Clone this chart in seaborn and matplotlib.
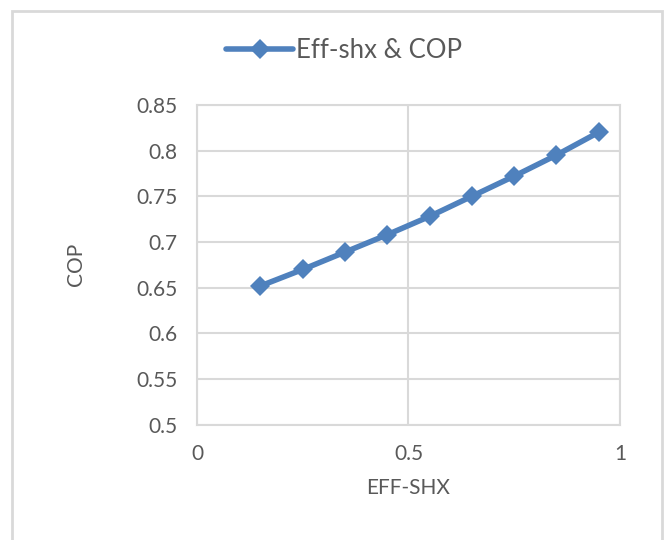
import numpy as np
import pandas as pd
import seaborn as sns
import matplotlib.pyplot as plt
from matplotlib.patches import Rectangle

eff_shx = [0.15, 0.25, 0.35, 0.45, 0.55, 0.65, 0.75, 0.85, 0.95]
cop = [0.652, 0.670, 0.689, 0.708, 0.728, 0.750, 0.772, 0.795, 0.820]
series_name = 'Eff-shx & COP'

df = pd.DataFrame({'EFF-SHX': eff_shx, 'COP': cop})

sns.set_style('white')
plt.rcParams['font.family'] = ['Lato', 'DejaVu Sans']
txt = '#595959'
grid = '#d9d9d9'
blue = '#4f81bd'

fig = plt.figure(figsize=(6.68, 5.40), dpi=100)
ax = fig.add_axes([0.295, 0.213, 0.633, 0.593])

sns.lineplot(data=df, x='EFF-SHX', y='COP', ax=ax, color=blue, linewidth=4,
             marker='D', markersize=10, markeredgewidth=0, label=series_name)

ax.set_xlim(0, 1)
ax.set_ylim(0.5, 0.85)
ax.set_xticks([0, 0.5, 1])
ax.set_xticklabels(['0', '0.5', '1'])
yt = np.arange(0.5, 0.851, 0.05)
ax.set_yticks(yt)
ax.set_yticklabels(['0.5', '0.55', '0.6', '0.65', '0.7', '0.75', '0.8', '0.85'])
ax.grid(True, color=grid, linewidth=1.5)
for s in ax.spines.values():
    s.set_color(grid)
    s.set_linewidth(1.5)
ax.tick_params(length=0, labelsize=15, colors=txt, pad=14)
ax.set_xlabel('EFF-SHX', fontsize=15, color=txt, labelpad=10)
ax.set_ylabel('COP', fontsize=15, color=txt, labelpad=36)

leg = ax.legend(loc='center', bbox_to_anchor=(0.515, 0.907), bbox_transform=fig.transFigure,
                frameon=False, fontsize=18.5, handlelength=2.6, handletextpad=0.1)
for t in leg.get_texts():
    t.set_color(txt)

fig.patches.append(Rectangle((12 / 668, -0.05), 650 / 668, 1 - 11 / 540 + 0.05,
                             transform=fig.transFigure, fill=False,
                             edgecolor=grid, linewidth=2))

fig.savefig('out.png', dpi=100)
